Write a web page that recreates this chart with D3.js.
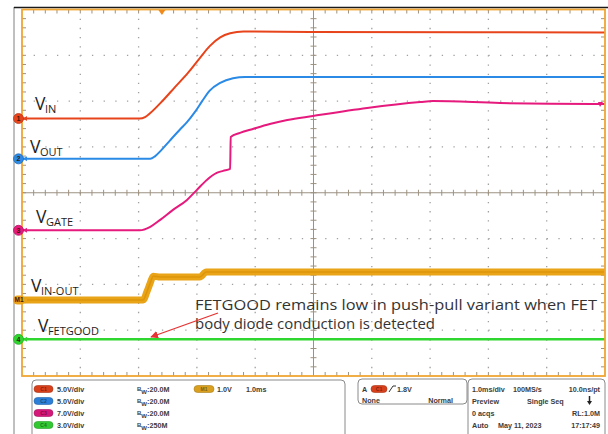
<!DOCTYPE html>
<html>
<head>
<meta charset="utf-8">
<script src="https://cdn.jsdelivr.net/npm/d3@7"></script>
<style>
  body{margin:0;background:#fff;}
  svg{display:block;}
</style>
</head>
<body>
<div id="scope"></div>
<script>
// traces: [time in ms from trigger centre, volts]
var vin = [[-5,0],[-2.98,0],[-2.89,0.16],[-2.80,0.6],[-2.58,2.0],[-2.38,3.4],[-2.15,5.0],[-1.95,6.6],
  [-1.78,7.9],[-1.60,8.85],[-1.43,9.3],[-1.2,9.5],[-0.06,9.45],[5,9.4]];
var vout = [[-5,0],[-2.80,0],[-2.72,0.27],[-2.63,0.82],[-2.46,2.02],[-2.29,3.2],[-2.17,4.0],[-2.03,5.15],
  [-1.91,6.3],[-1.78,7.45],[-1.60,8.3],[-1.38,8.8],[-1.17,8.94],[5,8.94]];
var vgate = [[-5,0],[-2.98,0],[-2.80,0.53],[-2.63,1.6],[-2.41,3.13],[-2.17,4.65],[-2.0,6.18],[-1.83,7.7],
  [-1.66,8.77],[-1.55,9.08],[-1.43,9.38],[-1.42,14.27],[-1.26,14.88],[-1.04,15.49],[-0.75,16.25],
  [-0.45,16.86],[-0.01,17.47],[0.92,18.69],[1.83,19.6],[2.05,19.76],[3.20,19.45],[4.79,19.3],[5,19.3]];
var vinout = [[-5,0],[-2.92,0],[-2.86,0.17],[-2.80,0.37],[-2.75,0.52],[-2.63,0.5],[-2.29,0.5],
  [-1.95,0.5],[-1.84,0.61],[5,0.61]];
var vfetgood = [[-5,0],[5,0]];

var traceNames = ['1','2','3','M1','4'];
var voltsPerDiv = [5,5,7,1,3];
var groundDiv = [1.62,0.74,-0.82,-2.34,-3.2];   // where each channel's 0 V sits, in divisions
var traceColors = ['#e8441c','#2b8ae6','#e6197d','#e9a418','#2fd62f'];
var traceWidths = [2,2,2,7,2.5];

var labelMain = ['V','V','V','V','V'];
var labelSub = ['IN','OUT','GATE','IN-OUT','FETGOOD'];
var note = ['FETGOOD remains low in push-pull variant when FET','body diode conduction is detected'];

var chanTags = ['C1','C2','C3','C4'];
var chanScale = ['5.0V/div','5.0V/div','7.0V/div','3.0V/div'];
var chanBw = ['20.0M','20.0M','20.0M','250M'];
var mathInfo = ['M1','1.0V','1.0ms'];
var trigInfo = ['A','C1','1.8V','None','Normal'];
var timeInfo = [['1.0ms/div','100MS/s','10.0ns/pt'],['Preview','Single Seq',''],['0 acqs','','RL:1.0M'],['Auto','May 11, 2023','17:17:49']];
var triggerTime = -2.6;

var W = 608, H = 434;
var svg = d3.select('#scope').append('svg').attr('width',W).attr('height',H);

var x = d3.scaleLinear().domain([-5,5]).range([22,605]);
var y = d3.scaleLinear().domain([-4,4]).range([376,9.5]);

// frame
svg.append('line').attr('x1',14).attr('x2',14).attr('y1',7).attr('y2',H).attr('stroke','#808080').attr('stroke-width',1);
svg.append('line').attr('x1',14).attr('x2',W).attr('y1',7.5).attr('y2',7.5).attr('stroke','#1a1a1a').attr('stroke-width',1.5);

// dotted grid
var grid = svg.append('g');
d3.range(-4,5).forEach(function(d){
  if(d===0) return;
  grid.append('line').attr('x1',x(d)).attr('x2',x(d)).attr('y1',y(4)).attr('y2',y(-4))
    .attr('stroke','#a0a0a0').attr('stroke-width',1.3).attr('stroke-dasharray','1.3,'+(y(3.8)-y(4)-1.3));
});
d3.range(-3,4).forEach(function(d){
  if(d===0) return;
  grid.append('line').attr('x1',x(-5)).attr('x2',x(5)).attr('y1',y(d)).attr('y2',y(d))
    .attr('stroke','#a0a0a0').attr('stroke-width',1.3).attr('stroke-dasharray','1.3,'+(x(-4.8)-x(-5)-1.3));
});

// centre cross with minor ticks
var tickCol = '#9d9282';
grid.append('line').attr('x1',x(0)).attr('x2',x(0)).attr('y1',y(4)).attr('y2',y(-4)).attr('stroke',tickCol);
grid.append('line').attr('x1',x(-5)).attr('x2',x(5)).attr('y1',y(0)).attr('y2',y(0)).attr('stroke',tickCol);
d3.range(-4.8,4.81,0.2).forEach(function(t){
  grid.append('line').attr('x1',x(t)).attr('x2',x(t)).attr('y1',y(0)-3).attr('y2',y(0)+3).attr('stroke',tickCol);
  grid.append('line').attr('x1',x(t)).attr('x2',x(t)).attr('y1',y(4)).attr('y2',y(4)+4).attr('stroke',tickCol);
  grid.append('line').attr('x1',x(t)).attr('x2',x(t)).attr('y1',y(-4)).attr('y2',y(-4)-4).attr('stroke',tickCol);
});
d3.range(-3.8,3.81,0.2).forEach(function(d){
  grid.append('line').attr('x1',x(0)-3).attr('x2',x(0)+3).attr('y1',y(d)).attr('y2',y(d)).attr('stroke',tickCol);
  grid.append('line').attr('x1',x(-5)).attr('x2',x(-5)+4).attr('y1',y(d)).attr('y2',y(d)).attr('stroke',tickCol);
  grid.append('line').attr('x1',x(5)).attr('x2',x(5)-4).attr('y1',y(d)).attr('y2',y(d)).attr('stroke',tickCol);
});

// traces
var traces = [vin,vout,vgate,vinout,vfetgood];
svg.append('defs').append('clipPath').attr('id','plot')
  .append('rect').attr('x',x(-5)).attr('y',y(4)).attr('width',x(5)-x(-5)).attr('height',y(-4)-y(4));
var plot = svg.append('g').attr('clip-path','url(#plot)');
traces.forEach(function(data,i){
  var line = d3.line()
    .curve(d3.curveMonotoneX)
    .x(function(d){return x(d[0]);})
    .y(function(d){return y(groundDiv[i] + d[1]/voltsPerDiv[i]);});
  plot.append('path').datum(data).attr('d',line).attr('fill','none')
    .attr('stroke',traceColors[i]).attr('stroke-width',traceWidths[i]).attr('stroke-linejoin','round');
  if(i===3){
    plot.append('path').datum(data).attr('d',line).attr('fill','none')
      .attr('stroke','#d68a00').attr('stroke-width',1.5).attr('stroke-opacity',0.6);
  }
});

// orange border of the screen
svg.append('rect').attr('x',x(-5)).attr('y',y(4)).attr('width',x(5)-x(-5)).attr('height',y(-4)-y(4))
  .attr('fill','none').attr('stroke','#f0a634').attr('stroke-width',1.8);

// trigger position marker
svg.append('path').attr('d','M'+(x(triggerTime)-3.5)+',10 L'+(x(triggerTime)+3.5)+',10 L'+x(triggerTime)+',15 Z')
  .attr('fill','#f08a1c');
// end arrow on gate trace
var gEnd = y(groundDiv[2] + vgate[vgate.length-1][1]/voltsPerDiv[2]);
svg.append('path').attr('d','M598,'+(gEnd-2)+' L603,'+(gEnd-2)+' L600,'+(gEnd+3)+' Z').attr('fill','#e6197d');

// channel ground markers
traceNames.forEach(function(n,i){
  var gy = y(groundDiv[i]);
  svg.append('path').attr('d','M23,'+gy+' l4,-2.5 l0,5 Z').attr('fill',traceColors[i]);
  if(n==='M1'){
    svg.append('rect').attr('x',13).attr('y',gy-4.5).attr('width',12).attr('height',9).attr('rx',4.5)
      .attr('fill','#eaa21a');
  }else{
    svg.append('circle').attr('cx',18.5).attr('cy',gy).attr('r',5)
      .attr('fill',traceColors[i]).attr('stroke',d3.color(traceColors[i]).darker(0.6)).attr('stroke-width',0.8);
  }
  svg.append('text').attr('x',n==='M1'?19:18.5).attr('y',gy+2.5).attr('text-anchor','middle')
    .attr('font-family','Liberation Sans, Arial, sans-serif').attr('font-size',n==='M1'?6.5:7).attr('font-weight','bold')
    .attr('fill','#3a1a10').text(n);
});

// signal labels
var labelPos = [[35,110],[30,153],[36,223],[31,292],[38,332]];
labelMain.forEach(function(m,i){
  var t = svg.append('text').attr('x',labelPos[i][0]).attr('y',labelPos[i][1])
    .attr('font-family','Open Sans, Noto Sans, sans-serif').attr('fill','#1e1e1e');
  t.append('tspan').attr('font-size',17.5).text(m);
  t.append('tspan').attr('font-size',11).attr('dy',3).attr('dx',-0.5).text(labelSub[i]);
});

// annotation and arrow
note.forEach(function(s,i){
  svg.append('text').attr('x',195).attr('y',310+i*19).attr('font-family','Open Sans, Noto Sans, sans-serif')
    .attr('font-size',15).attr('fill','#333').attr('textLength',i===0?402:240).attr('lengthAdjust','spacingAndGlyphs').text(s);
});
svg.append('defs').append('marker').attr('id','ah').attr('viewBox','0 0 10 10').attr('refX',9).attr('refY',5)
  .attr('markerWidth',6).attr('markerHeight',6).attr('orient','auto')
  .append('path').attr('d','M0,0 L10,5 L0,10 Z').attr('fill','#e63232');
svg.append('line').attr('x1',218).attr('y1',313).attr('x2',151).attr('y2',337)
  .attr('stroke','#e63232').attr('stroke-width',1.3).attr('marker-end','url(#ah)');

// bottom info panel
var font = 'Liberation Sans, Arial, sans-serif';
function box(x0,y0,w,h){
  svg.append('rect').attr('x',x0).attr('y',y0).attr('width',w).attr('height',h).attr('rx',4)
    .attr('fill','#fff').attr('stroke','#8a8a8a').attr('stroke-width',1);
}
function label(x0,y0,s,anchor){
  return svg.append('text').attr('x',x0).attr('y',y0).attr('font-family',font).attr('font-size',7.2)
    .attr('font-weight','bold').attr('fill','#3c3c3c').attr('text-anchor',anchor||'start').text(s);
}
function pill(x0,y0,w,col,s){
  svg.append('rect').attr('x',x0).attr('y',y0-6.5).attr('width',w).attr('height',7).attr('rx',3.5)
    .attr('fill',col).attr('stroke',d3.color(col).darker(0.7)).attr('stroke-width',0.6);
  svg.append('text').attr('x',x0+w/2).attr('y',y0-1).attr('text-anchor','middle').attr('font-family',font)
    .attr('font-size',5).attr('font-weight','bold').attr('fill',d3.color(col).darker(1.5)).text(s);
}
box(32,380,313,60);
box(358,379,109,25);
box(468,379,137,60);

var rowY = [392,404,416,428];
var tagColors = ['#d8401c','#2b7fd8','#d5197a','#31c831'];
chanTags.forEach(function(c,i){
  pill(34,rowY[i],19,tagColors[i],c);
  label(57,rowY[i],chanScale[i]);
  var b = label(137,rowY[i],'');
  b.append('tspan').attr('font-size',6).attr('dy',-1.5).text('B');
  b.append('tspan').attr('font-size',6).attr('dy',3).text('W');
  b.append('tspan').attr('dy',-1.5).text(':'+chanBw[i]);
});
pill(194,rowY[0],20,'#d9a020',mathInfo[0]);
label(217,rowY[0],mathInfo[1]);
label(246,rowY[0],mathInfo[2]);

label(362,rowY[0],trigInfo[0]);
pill(371,rowY[0],16,'#d8401c',trigInfo[1]);
svg.append('path').attr('d','M389,'+rowY[0]+' L393,'+(rowY[0]-6)+' L396,'+(rowY[0]-6)).attr('fill','none')
  .attr('stroke','#333').attr('stroke-width',1);
label(397,rowY[0],trigInfo[2]);
label(362,rowY[1]-1,trigInfo[3]);
label(453,rowY[1]-1,trigInfo[4],'end');

timeInfo.forEach(function(row,r){
  label(472,rowY[r],row[0]);
});
label(513,rowY[0],timeInfo[0][1]);
label(600,rowY[0],timeInfo[0][2],'end');
label(527,rowY[1],timeInfo[1][1]);
label(600,rowY[2],timeInfo[2][2],'end');
label(498,rowY[3],timeInfo[3][1]);
label(600,rowY[3],timeInfo[3][2],'end');
svg.append('path').attr('d','M589.5,'+(rowY[1]-8)+' L589.5,'+(rowY[1]-1)).attr('stroke','#222').attr('stroke-width',1.5);
svg.append('path').attr('d','M587,'+(rowY[1]-3)+' L592,'+(rowY[1]-3)+' L589.5,'+(rowY[1]+1)+' Z').attr('fill','#222');
</script>
</body>
</html>
